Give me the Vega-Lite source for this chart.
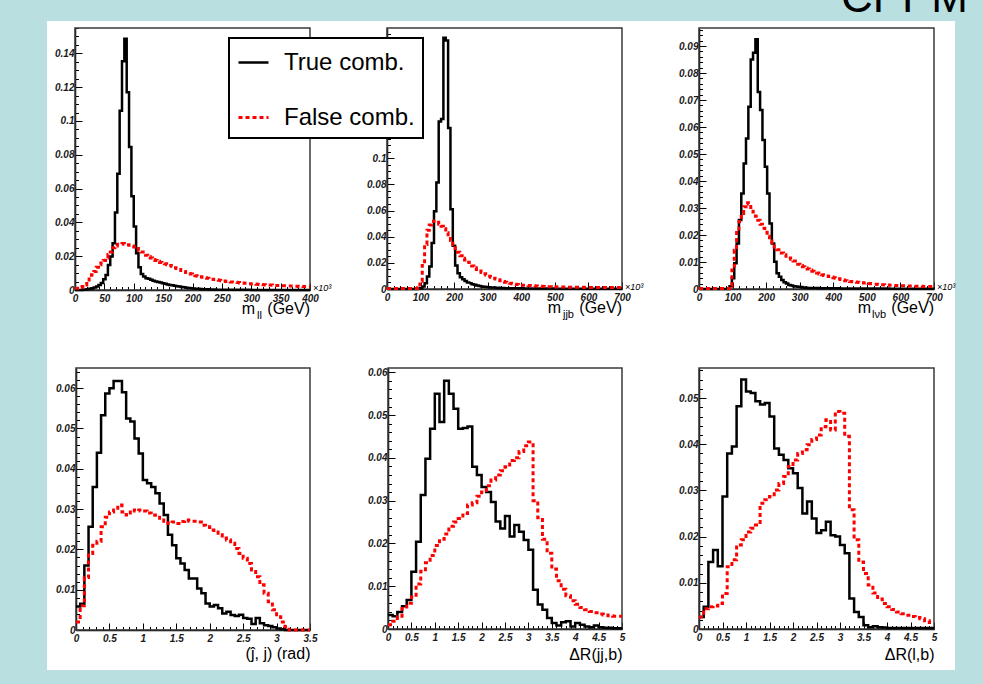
{
"$schema": "https://vega.github.io/schema/vega-lite/v6.json",
"width": 908, "height": 649,
"autosize": {"type": "none"},
"padding": {"left": 47, "top": 21, "right": 28, "bottom": 14},
"background": "#b9dfe1",
"data": {"values": [
{"p":"A","x":0,"t":0,"f":0.001},{"p":"A","x":4,"t":0,"f":0.001},{"p":"A","x":8,"t":0,"f":0.0015},{"p":"A","x":12,"t":0.0001,"f":0.002},{"p":"A","x":16,"t":0.0003,"f":0.003},{"p":"A","x":20,"t":0.0005,"f":0.005},{"p":"A","x":24,"t":0.0008,"f":0.0075},{"p":"A","x":28,"t":0.001,"f":0.009},{"p":"A","x":32,"t":0.0015,"f":0.011},{"p":"A","x":36,"t":0.002,"f":0.0135},{"p":"A","x":40,"t":0.003,"f":0.015},{"p":"A","x":44,"t":0.0042,"f":0.016},{"p":"A","x":48,"t":0.0063,"f":0.0175},{"p":"A","x":52,"t":0.0089,"f":0.019},{"p":"A","x":56,"t":0.0148,"f":0.021},{"p":"A","x":60,"t":0.0198,"f":0.0225},{"p":"A","x":64,"t":0.0277,"f":0.025},{"p":"A","x":68,"t":0.0459,"f":0.026},{"p":"A","x":72,"t":0.0688,"f":0.027},{"p":"A","x":76,"t":0.106,"f":0.0272},{"p":"A","x":80,"t":0.1354,"f":0.0275},{"p":"A","x":84,"t":0.1487,"f":0.027},{"p":"A","x":88,"t":0.117,"f":0.0268},{"p":"A","x":92,"t":0.0846,"f":0.0265},{"p":"A","x":96,"t":0.0554,"f":0.026},{"p":"A","x":100,"t":0.0376,"f":0.0255},{"p":"A","x":104,"t":0.0218,"f":0.0245},{"p":"A","x":108,"t":0.0135,"f":0.0235},{"p":"A","x":112,"t":0.0095,"f":0.0225},{"p":"A","x":116,"t":0.008,"f":0.0215},{"p":"A","x":120,"t":0.007,"f":0.0205},{"p":"A","x":124,"t":0.0066,"f":0.0198},{"p":"A","x":128,"t":0.006,"f":0.019},{"p":"A","x":132,"t":0.0055,"f":0.018},{"p":"A","x":136,"t":0.005,"f":0.0175},{"p":"A","x":140,"t":0.0047,"f":0.017},{"p":"A","x":144,"t":0.0044,"f":0.0163},{"p":"A","x":148,"t":0.004,"f":0.0158},{"p":"A","x":152,"t":0.0037,"f":0.0155},{"p":"A","x":156,"t":0.0033,"f":0.015},{"p":"A","x":160,"t":0.003,"f":0.0145},{"p":"A","x":164,"t":0.0028,"f":0.014},{"p":"A","x":168,"t":0.0025,"f":0.0132},{"p":"A","x":172,"t":0.0022,"f":0.0127},{"p":"A","x":176,"t":0.002,"f":0.0122},{"p":"A","x":180,"t":0.0018,"f":0.0115},{"p":"A","x":184,"t":0.0016,"f":0.011},{"p":"A","x":188,"t":0.0014,"f":0.0103},{"p":"A","x":192,"t":0.0012,"f":0.0098},{"p":"A","x":196,"t":0.001,"f":0.0095},{"p":"A","x":200,"t":0.0009,"f":0.009},{"p":"A","x":204,"t":0.0008,"f":0.0085},{"p":"A","x":208,"t":0.0007,"f":0.0082},{"p":"A","x":212,"t":0.0006,"f":0.0078},{"p":"A","x":216,"t":0.0005,"f":0.0075},{"p":"A","x":220,"t":0.0004,"f":0.0072},{"p":"A","x":224,"t":0.0004,"f":0.0069},{"p":"A","x":228,"t":0.0003,"f":0.0066},{"p":"A","x":232,"t":0.0003,"f":0.0064},{"p":"A","x":236,"t":0.0003,"f":0.0062},{"p":"A","x":240,"t":0.0002,"f":0.006},{"p":"A","x":244,"t":0.0002,"f":0.0057},{"p":"A","x":248,"t":0.0002,"f":0.0055},{"p":"A","x":252,"t":0.0001,"f":0.0053},{"p":"A","x":256,"t":0.0001,"f":0.0051},{"p":"A","x":260,"t":0.0001,"f":0.005},{"p":"A","x":264,"t":0.0001,"f":0.0048},{"p":"A","x":268,"t":0.0001,"f":0.0047},{"p":"A","x":272,"t":0.0001,"f":0.0046},{"p":"A","x":276,"t":0.0001,"f":0.0044},{"p":"A","x":280,"t":0.0001,"f":0.0042},{"p":"A","x":284,"t":0.0001,"f":0.0041},{"p":"A","x":288,"t":0.0001,"f":0.004},{"p":"A","x":292,"t":0.0001,"f":0.0038},{"p":"A","x":296,"t":0.0001,"f":0.0037},{"p":"A","x":300,"t":0,"f":0.0036},{"p":"A","x":304,"t":0,"f":0.0035},{"p":"A","x":308,"t":0,"f":0.0034},{"p":"A","x":312,"t":0,"f":0.0033},{"p":"A","x":316,"t":0,"f":0.0032},{"p":"A","x":320,"t":0,"f":0.0031},{"p":"A","x":324,"t":0,"f":0.003},{"p":"A","x":328,"t":0,"f":0.003},{"p":"A","x":332,"t":0,"f":0.0029},{"p":"A","x":336,"t":0,"f":0.0028},{"p":"A","x":340,"t":0,"f":0.0027},{"p":"A","x":344,"t":0,"f":0.0027},{"p":"A","x":348,"t":0,"f":0.0026},{"p":"A","x":352,"t":0,"f":0.0025},{"p":"A","x":356,"t":0,"f":0.0025},{"p":"A","x":360,"t":0,"f":0.0024},{"p":"A","x":364,"t":0,"f":0.0024},{"p":"A","x":368,"t":0,"f":0.0023},{"p":"A","x":372,"t":0,"f":0.0022},{"p":"A","x":376,"t":0,"f":0.0022},{"p":"A","x":380,"t":0,"f":0.0021},{"p":"A","x":384,"t":0,"f":0.0021},{"p":"A","x":388,"t":0,"f":0.002},{"p":"A","x":392,"t":0,"f":0.002},{"p":"A","x":396,"t":0,"f":0.0019},{"p":"A","x":400,"t":0,"f":0.0019},
{"p":"B","x":0,"t":0,"f":0.0003},{"p":"B","x":7,"t":0,"f":0.0003},{"p":"B","x":14,"t":0,"f":0.0003},{"p":"B","x":21,"t":0,"f":0.0003},{"p":"B","x":28,"t":0,"f":0.0003},{"p":"B","x":35,"t":0,"f":0.0003},{"p":"B","x":42,"t":0,"f":0.0003},{"p":"B","x":49,"t":0,"f":0.0003},{"p":"B","x":56,"t":0,"f":0.0003},{"p":"B","x":63,"t":0,"f":0.0003},{"p":"B","x":70,"t":0,"f":0.0003},{"p":"B","x":77,"t":0,"f":0.0003},{"p":"B","x":84,"t":0,"f":0.0003},{"p":"B","x":91,"t":0.0002,"f":0.001},{"p":"B","x":98,"t":0.0005,"f":0.006},{"p":"B","x":105,"t":0.002,"f":0.018},{"p":"B","x":112,"t":0.0044,"f":0.034},{"p":"B","x":119,"t":0.0095,"f":0.045},{"p":"B","x":126,"t":0.0172,"f":0.049},{"p":"B","x":133,"t":0.0351,"f":0.0515},{"p":"B","x":140,"t":0.0595,"f":0.052},{"p":"B","x":147,"t":0.0815,"f":0.051},{"p":"B","x":154,"t":0.128,"f":0.0495},{"p":"B","x":161,"t":0.13,"f":0.048},{"p":"B","x":168,"t":0.192,"f":0.046},{"p":"B","x":175,"t":0.19,"f":0.043},{"p":"B","x":182,"t":0.123,"f":0.04},{"p":"B","x":189,"t":0.061,"f":0.037},{"p":"B","x":196,"t":0.033,"f":0.034},{"p":"B","x":203,"t":0.018,"f":0.031},{"p":"B","x":210,"t":0.012,"f":0.028},{"p":"B","x":217,"t":0.009,"f":0.0255},{"p":"B","x":224,"t":0.0075,"f":0.0235},{"p":"B","x":231,"t":0.0062,"f":0.0222},{"p":"B","x":238,"t":0.005,"f":0.0205},{"p":"B","x":245,"t":0.0043,"f":0.019},{"p":"B","x":252,"t":0.0037,"f":0.0175},{"p":"B","x":259,"t":0.0032,"f":0.0162},{"p":"B","x":266,"t":0.0027,"f":0.015},{"p":"B","x":273,"t":0.0023,"f":0.0138},{"p":"B","x":280,"t":0.002,"f":0.0127},{"p":"B","x":287,"t":0.0018,"f":0.0116},{"p":"B","x":294,"t":0.0016,"f":0.0107},{"p":"B","x":301,"t":0.0014,"f":0.0098},{"p":"B","x":308,"t":0.0012,"f":0.009},{"p":"B","x":315,"t":0.0011,"f":0.0083},{"p":"B","x":322,"t":0.001,"f":0.0076},{"p":"B","x":329,"t":0.0009,"f":0.007},{"p":"B","x":336,"t":0.0008,"f":0.0063},{"p":"B","x":343,"t":0.0007,"f":0.0057},{"p":"B","x":350,"t":0.0006,"f":0.0052},{"p":"B","x":357,"t":0.0005,"f":0.0047},{"p":"B","x":364,"t":0.0005,"f":0.0043},{"p":"B","x":371,"t":0.0005,"f":0.004},{"p":"B","x":378,"t":0.0005,"f":0.0037},{"p":"B","x":385,"t":0.0005,"f":0.0034},{"p":"B","x":392,"t":0.0005,"f":0.0031},{"p":"B","x":399,"t":0.0005,"f":0.0029},{"p":"B","x":406,"t":0.0003,"f":0.0028},{"p":"B","x":413,"t":0.0003,"f":0.0027},{"p":"B","x":420,"t":0.0003,"f":0.0026},{"p":"B","x":427,"t":0.0003,"f":0.0025},{"p":"B","x":434,"t":0.0003,"f":0.0024},{"p":"B","x":441,"t":0.0003,"f":0.0023},{"p":"B","x":448,"t":0.0003,"f":0.0022},{"p":"B","x":455,"t":0.0003,"f":0.0021},{"p":"B","x":462,"t":0.0003,"f":0.002},{"p":"B","x":469,"t":0.0003,"f":0.0019},{"p":"B","x":476,"t":0.0003,"f":0.0018},{"p":"B","x":483,"t":0.0003,"f":0.0018},{"p":"B","x":490,"t":0.0003,"f":0.0017},{"p":"B","x":497,"t":0.0002,"f":0.0017},{"p":"B","x":504,"t":0.0002,"f":0.0016},{"p":"B","x":511,"t":0.0002,"f":0.0016},{"p":"B","x":518,"t":0.0002,"f":0.0015},{"p":"B","x":525,"t":0.0002,"f":0.0015},{"p":"B","x":532,"t":0.0002,"f":0.0015},{"p":"B","x":539,"t":0.0002,"f":0.0014},{"p":"B","x":546,"t":0.0002,"f":0.0014},{"p":"B","x":553,"t":0.0002,"f":0.0014},{"p":"B","x":560,"t":0.0002,"f":0.0013},{"p":"B","x":567,"t":0.0002,"f":0.0013},{"p":"B","x":574,"t":0.0002,"f":0.0013},{"p":"B","x":581,"t":0.0002,"f":0.0013},{"p":"B","x":588,"t":0.0002,"f":0.0012},{"p":"B","x":595,"t":0.0002,"f":0.0012},{"p":"B","x":602,"t":0.0002,"f":0.0012},{"p":"B","x":609,"t":0.0002,"f":0.0012},{"p":"B","x":616,"t":0.0002,"f":0.0012},{"p":"B","x":623,"t":0.0002,"f":0.0012},{"p":"B","x":630,"t":0.0002,"f":0.0012},{"p":"B","x":637,"t":0.0002,"f":0.0012},{"p":"B","x":644,"t":0.0002,"f":0.0012},{"p":"B","x":651,"t":0.0002,"f":0.0012},{"p":"B","x":658,"t":0.0002,"f":0.0012},{"p":"B","x":665,"t":0.0002,"f":0.0012},{"p":"B","x":672,"t":0.0002,"f":0.0012},{"p":"B","x":679,"t":0.0002,"f":0.0012},{"p":"B","x":686,"t":0.0002,"f":0.0012},{"p":"B","x":693,"t":0.0002,"f":0.0012},{"p":"B","x":700,"t":0.0002,"f":0.0012},
{"p":"C","x":0,"t":0,"f":0.0002},{"p":"C","x":7,"t":0,"f":0.0002},{"p":"C","x":14,"t":0,"f":0.0002},{"p":"C","x":21,"t":0,"f":0.0002},{"p":"C","x":28,"t":0,"f":0.0002},{"p":"C","x":35,"t":0,"f":0.0002},{"p":"C","x":42,"t":0,"f":0.0002},{"p":"C","x":49,"t":0,"f":0.0002},{"p":"C","x":56,"t":0,"f":0.0002},{"p":"C","x":63,"t":0,"f":0.0002},{"p":"C","x":70,"t":0,"f":0.0002},{"p":"C","x":77,"t":0,"f":0.0002},{"p":"C","x":84,"t":0,"f":0.0002},{"p":"C","x":91,"t":0.001,"f":0.001},{"p":"C","x":98,"t":0.004,"f":0.007},{"p":"C","x":105,"t":0.0095,"f":0.0144},{"p":"C","x":112,"t":0.0169,"f":0.0215},{"p":"C","x":119,"t":0.0256,"f":0.025},{"p":"C","x":126,"t":0.0354,"f":0.028},{"p":"C","x":133,"t":0.0465,"f":0.0305},{"p":"C","x":140,"t":0.0558,"f":0.032},{"p":"C","x":147,"t":0.0675,"f":0.0315},{"p":"C","x":154,"t":0.085,"f":0.0302},{"p":"C","x":161,"t":0.0875,"f":0.0285},{"p":"C","x":168,"t":0.0925,"f":0.027},{"p":"C","x":175,"t":0.073,"f":0.0255},{"p":"C","x":182,"t":0.0663,"f":0.024},{"p":"C","x":189,"t":0.0552,"f":0.0225},{"p":"C","x":196,"t":0.0453,"f":0.021},{"p":"C","x":203,"t":0.0354,"f":0.0195},{"p":"C","x":210,"t":0.0243,"f":0.0178},{"p":"C","x":217,"t":0.0169,"f":0.0165},{"p":"C","x":224,"t":0.0101,"f":0.0155},{"p":"C","x":231,"t":0.0058,"f":0.0145},{"p":"C","x":238,"t":0.0045,"f":0.014},{"p":"C","x":245,"t":0.0033,"f":0.0133},{"p":"C","x":252,"t":0.0025,"f":0.0127},{"p":"C","x":259,"t":0.002,"f":0.0121},{"p":"C","x":266,"t":0.0015,"f":0.0115},{"p":"C","x":273,"t":0.0013,"f":0.011},{"p":"C","x":280,"t":0.001,"f":0.0104},{"p":"C","x":287,"t":0.0009,"f":0.0097},{"p":"C","x":294,"t":0.0008,"f":0.0092},{"p":"C","x":301,"t":0.0007,"f":0.0087},{"p":"C","x":308,"t":0.0006,"f":0.0082},{"p":"C","x":315,"t":0.0005,"f":0.0078},{"p":"C","x":322,"t":0.0004,"f":0.0074},{"p":"C","x":329,"t":0.0004,"f":0.007},{"p":"C","x":336,"t":0.0004,"f":0.0066},{"p":"C","x":343,"t":0.0004,"f":0.0062},{"p":"C","x":350,"t":0.0004,"f":0.0059},{"p":"C","x":357,"t":0.0003,"f":0.0056},{"p":"C","x":364,"t":0.0003,"f":0.0053},{"p":"C","x":371,"t":0.0003,"f":0.005},{"p":"C","x":378,"t":0.0003,"f":0.0048},{"p":"C","x":385,"t":0.0003,"f":0.0046},{"p":"C","x":392,"t":0.0003,"f":0.0044},{"p":"C","x":399,"t":0.0003,"f":0.0042},{"p":"C","x":406,"t":0.0003,"f":0.004},{"p":"C","x":413,"t":0.0003,"f":0.0038},{"p":"C","x":420,"t":0.0002,"f":0.0035},{"p":"C","x":427,"t":0.0002,"f":0.0033},{"p":"C","x":434,"t":0.0002,"f":0.0031},{"p":"C","x":441,"t":0.0002,"f":0.003},{"p":"C","x":448,"t":0.0002,"f":0.0028},{"p":"C","x":455,"t":0.0002,"f":0.0027},{"p":"C","x":462,"t":0.0002,"f":0.0026},{"p":"C","x":469,"t":0.0002,"f":0.0025},{"p":"C","x":476,"t":0.0002,"f":0.0024},{"p":"C","x":483,"t":0.0002,"f":0.0023},{"p":"C","x":490,"t":0.0002,"f":0.0022},{"p":"C","x":497,"t":0.0002,"f":0.0021},{"p":"C","x":504,"t":0.0002,"f":0.002},{"p":"C","x":511,"t":0.0002,"f":0.0019},{"p":"C","x":518,"t":0.0002,"f":0.0018},{"p":"C","x":525,"t":0.0002,"f":0.0018},{"p":"C","x":532,"t":0.0002,"f":0.0017},{"p":"C","x":539,"t":0.0002,"f":0.0016},{"p":"C","x":546,"t":0.0002,"f":0.0016},{"p":"C","x":553,"t":0.0002,"f":0.0015},{"p":"C","x":560,"t":0.0002,"f":0.0015},{"p":"C","x":567,"t":0.0001,"f":0.0014},{"p":"C","x":574,"t":0.0001,"f":0.0014},{"p":"C","x":581,"t":0.0001,"f":0.0013},{"p":"C","x":588,"t":0.0001,"f":0.0013},{"p":"C","x":595,"t":0.0001,"f":0.0012},{"p":"C","x":602,"t":0.0001,"f":0.0012},{"p":"C","x":609,"t":0.0001,"f":0.0012},{"p":"C","x":616,"t":0.0001,"f":0.0011},{"p":"C","x":623,"t":0.0001,"f":0.0011},{"p":"C","x":630,"t":0.0001,"f":0.0011},{"p":"C","x":637,"t":0.0001,"f":0.001},{"p":"C","x":644,"t":0.0001,"f":0.001},{"p":"C","x":651,"t":0.0001,"f":0.001},{"p":"C","x":658,"t":0.0001,"f":0.001},{"p":"C","x":665,"t":0.0001,"f":0.0009},{"p":"C","x":672,"t":0.0001,"f":0.0009},{"p":"C","x":679,"t":0.0001,"f":0.0009},{"p":"C","x":686,"t":0.0001,"f":0.0009},{"p":"C","x":693,"t":0.0001,"f":0.0009},{"p":"C","x":700,"t":0.0001,"f":0.0009},
{"p":"D","x":0,"t":0.0058,"f":0.002},{"p":"D","x":0.0625,"t":0.0065,"f":0.006},{"p":"D","x":0.125,"t":0.016,"f":0.013},{"p":"D","x":0.1875,"t":0.0256,"f":0.019},{"p":"D","x":0.25,"t":0.0355,"f":0.021},{"p":"D","x":0.3125,"t":0.044,"f":0.022},{"p":"D","x":0.375,"t":0.0533,"f":0.0256},{"p":"D","x":0.4375,"t":0.0587,"f":0.028},{"p":"D","x":0.5,"t":0.06,"f":0.0293},{"p":"D","x":0.5625,"t":0.0618,"f":0.0298},{"p":"D","x":0.625,"t":0.0618,"f":0.031},{"p":"D","x":0.6875,"t":0.059,"f":0.0293},{"p":"D","x":0.75,"t":0.0525,"f":0.0285},{"p":"D","x":0.8125,"t":0.0517,"f":0.0298},{"p":"D","x":0.875,"t":0.0475,"f":0.0295},{"p":"D","x":0.9375,"t":0.0438,"f":0.0298},{"p":"D","x":1,"t":0.0372,"f":0.0295},{"p":"D","x":1.0625,"t":0.0364,"f":0.029},{"p":"D","x":1.125,"t":0.0355,"f":0.0285},{"p":"D","x":1.1875,"t":0.0339,"f":0.028},{"p":"D","x":1.25,"t":0.0314,"f":0.0273},{"p":"D","x":1.3125,"t":0.0285,"f":0.027},{"p":"D","x":1.375,"t":0.0236,"f":0.0264},{"p":"D","x":1.4375,"t":0.021,"f":0.0268},{"p":"D","x":1.5,"t":0.0178,"f":0.0264},{"p":"D","x":1.5625,"t":0.0165,"f":0.0269},{"p":"D","x":1.625,"t":0.0149,"f":0.0273},{"p":"D","x":1.6875,"t":0.0128,"f":0.027},{"p":"D","x":1.75,"t":0.0128,"f":0.027},{"p":"D","x":1.8125,"t":0.0103,"f":0.0268},{"p":"D","x":1.875,"t":0.0091,"f":0.026},{"p":"D","x":1.9375,"t":0.0066,"f":0.0256},{"p":"D","x":2,"t":0.0058,"f":0.0248},{"p":"D","x":2.0625,"t":0.0062,"f":0.0243},{"p":"D","x":2.125,"t":0.0054,"f":0.0236},{"p":"D","x":2.1875,"t":0.0041,"f":0.0228},{"p":"D","x":2.25,"t":0.0045,"f":0.0223},{"p":"D","x":2.3125,"t":0.0037,"f":0.0215},{"p":"D","x":2.375,"t":0.0035,"f":0.0202},{"p":"D","x":2.4375,"t":0.0038,"f":0.019},{"p":"D","x":2.5,"t":0.003,"f":0.0178},{"p":"D","x":2.5625,"t":0.0028,"f":0.0165},{"p":"D","x":2.625,"t":0.0015,"f":0.0149},{"p":"D","x":2.6875,"t":0.003,"f":0.0132},{"p":"D","x":2.75,"t":0.0017,"f":0.0112},{"p":"D","x":2.8125,"t":0.0012,"f":0.0091},{"p":"D","x":2.875,"t":0.001,"f":0.007},{"p":"D","x":2.9375,"t":0.0007,"f":0.005},{"p":"D","x":3,"t":0.0004,"f":0.0033},{"p":"D","x":3.0625,"t":0.0002,"f":0.002},{"p":"D","x":3.125,"t":0,"f":0.0008},{"p":"D","x":3.1875,"t":0,"f":0},{"p":"D","x":3.25,"t":0,"f":0},{"p":"D","x":3.3125,"t":0,"f":0},{"p":"D","x":3.375,"t":0,"f":0},{"p":"D","x":3.4375,"t":0,"f":0},{"p":"D","x":3.5,"t":0,"f":0},
{"p":"E","x":0,"t":0.0033,"f":0.001},{"p":"E","x":0.1,"t":0.003,"f":0.0018},{"p":"E","x":0.2,"t":0.004,"f":0.003},{"p":"E","x":0.3,"t":0.0053,"f":0.0048},{"p":"E","x":0.4,"t":0.0068,"f":0.006},{"p":"E","x":0.5,"t":0.0134,"f":0.0075},{"p":"E","x":0.6,"t":0.0204,"f":0.0105},{"p":"E","x":0.7,"t":0.0313,"f":0.0135},{"p":"E","x":0.8,"t":0.0398,"f":0.0155},{"p":"E","x":0.9,"t":0.0468,"f":0.0172},{"p":"E","x":1,"t":0.055,"f":0.0195},{"p":"E","x":1.1,"t":0.0484,"f":0.021},{"p":"E","x":1.2,"t":0.058,"f":0.0222},{"p":"E","x":1.3,"t":0.055,"f":0.024},{"p":"E","x":1.4,"t":0.0515,"f":0.025},{"p":"E","x":1.5,"t":0.0468,"f":0.0258},{"p":"E","x":1.6,"t":0.047,"f":0.027},{"p":"E","x":1.7,"t":0.0473,"f":0.029},{"p":"E","x":1.8,"t":0.0379,"f":0.0295},{"p":"E","x":1.9,"t":0.036,"f":0.031},{"p":"E","x":2,"t":0.0332,"f":0.032},{"p":"E","x":2.1,"t":0.032,"f":0.0335},{"p":"E","x":2.2,"t":0.0297,"f":0.0348},{"p":"E","x":2.3,"t":0.0251,"f":0.036},{"p":"E","x":2.4,"t":0.0235,"f":0.037},{"p":"E","x":2.5,"t":0.0264,"f":0.0379},{"p":"E","x":2.6,"t":0.0216,"f":0.0394},{"p":"E","x":2.7,"t":0.0243,"f":0.04},{"p":"E","x":2.8,"t":0.0227,"f":0.0415},{"p":"E","x":2.9,"t":0.0208,"f":0.0428},{"p":"E","x":3,"t":0.0185,"f":0.0437},{"p":"E","x":3.1,"t":0.0092,"f":0.03},{"p":"E","x":3.2,"t":0.0057,"f":0.026},{"p":"E","x":3.3,"t":0.0045,"f":0.021},{"p":"E","x":3.4,"t":0.0026,"f":0.0177},{"p":"E","x":3.5,"t":0.0014,"f":0.014},{"p":"E","x":3.6,"t":0.0008,"f":0.0113},{"p":"E","x":3.7,"t":0.0016,"f":0.0093},{"p":"E","x":3.8,"t":0.0018,"f":0.0078},{"p":"E","x":3.9,"t":0.0006,"f":0.0066},{"p":"E","x":4,"t":0.0014,"f":0.0058},{"p":"E","x":4.1,"t":0.001,"f":0.005},{"p":"E","x":4.2,"t":0.0006,"f":0.0045},{"p":"E","x":4.3,"t":0.0004,"f":0.0041},{"p":"E","x":4.4,"t":0.0008,"f":0.0038},{"p":"E","x":4.5,"t":0.0004,"f":0.0035},{"p":"E","x":4.6,"t":0.0003,"f":0.0033},{"p":"E","x":4.7,"t":0.0003,"f":0.0031},{"p":"E","x":4.8,"t":0.0002,"f":0.003},{"p":"E","x":4.9,"t":0.0002,"f":0.003},{"p":"E","x":5,"t":0.0002,"f":0.003},
{"p":"F","x":0,"t":0.0026,"f":0.0026},{"p":"F","x":0.1,"t":0.0048,"f":0.0044},{"p":"F","x":0.2,"t":0.0145,"f":0.0048},{"p":"F","x":0.3,"t":0.0171,"f":0.005},{"p":"F","x":0.4,"t":0.0136,"f":0.0055},{"p":"F","x":0.5,"t":0.0287,"f":0.0077},{"p":"F","x":0.6,"t":0.038,"f":0.0135},{"p":"F","x":0.7,"t":0.0395,"f":0.015},{"p":"F","x":0.8,"t":0.0482,"f":0.0182},{"p":"F","x":0.9,"t":0.054,"f":0.0193},{"p":"F","x":1,"t":0.0514,"f":0.021},{"p":"F","x":1.1,"t":0.0511,"f":0.0218},{"p":"F","x":1.2,"t":0.0493,"f":0.0225},{"p":"F","x":1.3,"t":0.0486,"f":0.0272},{"p":"F","x":1.4,"t":0.0489,"f":0.028},{"p":"F","x":1.5,"t":0.046,"f":0.0287},{"p":"F","x":1.6,"t":0.0391,"f":0.0301},{"p":"F","x":1.7,"t":0.0377,"f":0.0315},{"p":"F","x":1.8,"t":0.0366,"f":0.033},{"p":"F","x":1.9,"t":0.0348,"f":0.0352},{"p":"F","x":2,"t":0.0337,"f":0.0366},{"p":"F","x":2.1,"t":0.0305,"f":0.038},{"p":"F","x":2.2,"t":0.025,"f":0.0388},{"p":"F","x":2.3,"t":0.0276,"f":0.0399},{"p":"F","x":2.4,"t":0.0239,"f":0.041},{"p":"F","x":2.5,"t":0.0208,"f":0.042},{"p":"F","x":2.6,"t":0.0214,"f":0.0438},{"p":"F","x":2.7,"t":0.0232,"f":0.0453},{"p":"F","x":2.8,"t":0.0203,"f":0.0431},{"p":"F","x":2.9,"t":0.02,"f":0.0471},{"p":"F","x":3,"t":0.0182,"f":0.0467},{"p":"F","x":3.1,"t":0.0164,"f":0.0417},{"p":"F","x":3.2,"t":0.0066,"f":0.0258},{"p":"F","x":3.3,"t":0.0037,"f":0.0193},{"p":"F","x":3.4,"t":0.0026,"f":0.0145},{"p":"F","x":3.5,"t":0.0008,"f":0.012},{"p":"F","x":3.6,"t":0.0004,"f":0.0095},{"p":"F","x":3.7,"t":0.0006,"f":0.0078},{"p":"F","x":3.8,"t":0.0004,"f":0.0065},{"p":"F","x":3.9,"t":0.0003,"f":0.0055},{"p":"F","x":4,"t":0.0002,"f":0.0048},{"p":"F","x":4.1,"t":0.0002,"f":0.0042},{"p":"F","x":4.2,"t":0.0002,"f":0.0037},{"p":"F","x":4.3,"t":0.0002,"f":0.0033},{"p":"F","x":4.4,"t":0.0002,"f":0.003},{"p":"F","x":4.5,"t":0.0002,"f":0.0027},{"p":"F","x":4.6,"t":0.0002,"f":0.0025},{"p":"F","x":4.7,"t":0.0002,"f":0.0022},{"p":"F","x":4.8,"t":0.0002,"f":0.0018},{"p":"F","x":4.9,"t":0.0002,"f":0.0014},{"p":"F","x":5,"t":0.0002,"f":0.0014}
]},
"layer": [
{"layer": [
 {"data": {"values": [{}]}, "mark": {"type": "rect", "filled": false, "stroke": "#3a3a3a", "strokeWidth": 1.5},
  "encoding": {
   "x": {"datum": 0, "type": "quantitative", "scale": {"domain": [0, 400], "range": [28, 263], "nice": false, "zero": false}, "axis": {"orient": "bottom", "offset": -380, "tickCount": 40, "tickSize": -3.5, "labels": false, "domain": false, "title": null}},
   "x2": {"datum": 400},
   "y": {"datum": 0, "type": "quantitative", "scale": {"domain": [0, 0.155], "range": [269, 7], "nice": false, "zero": false}, "axis": {"orient": "left", "offset": -28, "tickCount": 40, "tickSize": -3.5, "labels": false, "domain": false, "title": null}},
   "y2": {"datum": 0.155}}},
 {"transform": [{"filter": "datum.p == 'A'"}, {"fold": ["t", "f"], "as": ["s", "y"]}],
  "mark": {"type": "line", "interpolate": "step-after"},
  "encoding": {
   "x": {"field": "x", "type": "quantitative", "scale": {"domain": [0, 400], "range": [28, 263], "nice": false, "zero": false}, "axis": {"orient": "bottom", "offset": -380, "tickCount": 8, "tickSize": -7, "labelPadding": 10, "format": "d", "title": null}},
   "y": {"field": "y", "type": "quantitative", "scale": {"domain": [0, 0.155], "range": [269, 7], "nice": false, "zero": false}, "axis": {"orient": "left", "offset": -28, "tickCount": 8, "tickSize": -7, "labelPadding": 8, "format": "~g", "title": null}},
   "color": {"field": "s", "type": "nominal", "scale": {"domain": ["t", "f"], "range": ["#000000", "#ff0000"]}, "legend": {"title": null, "orient": "none", "legendX": 182, "legendY": 17, "symbolStrokeWidth": 4, "labelExpr": "datum.value == 't' ? 'True comb.' : 'False comb.'"}},
   "strokeDash": {"field": "s", "type": "nominal", "scale": {"domain": ["t", "f"], "range": [[1, 0], [4, 3]]}, "legend": {"title": null, "orient": "none", "legendX": 182, "legendY": 17, "symbolStrokeWidth": 4, "labelExpr": "datum.value == 't' ? 'True comb.' : 'False comb.'"}},
   "strokeWidth": {"field": "s", "type": "ordinal", "scale": {"domain": ["t", "f"], "range": [2.5, 3]}, "legend": null}}},
 {"data": {"values": [{}]}, "mark": {"type": "text", "text": "×10³", "align": "left", "baseline": "middle", "dx": 3, "dy": -2, "fontSize": 9, "fontStyle": "italic"}, "encoding": {"x": {"datum": 400, "type": "quantitative", "axis": null}, "y": {"datum": 0, "type": "quantitative", "axis": null}}},
 {"data": {"values": [{}]}, "mark": {"type": "text", "text": "(GeV)", "align": "right", "baseline": "alphabetic", "dy": 24, "fontSize": 16}, "encoding": {"x": {"datum": 400, "type": "quantitative", "axis": null}, "y": {"datum": 0, "type": "quantitative", "axis": null}}},
 {"data": {"values": [{}]}, "mark": {"type": "text", "text": "ll", "align": "right", "baseline": "alphabetic", "dx": -48, "dy": 29, "fontSize": 11}, "encoding": {"x": {"datum": 400, "type": "quantitative", "axis": null}, "y": {"datum": 0, "type": "quantitative", "axis": null}}},
 {"data": {"values": [{}]}, "mark": {"type": "text", "text": "m", "align": "right", "baseline": "alphabetic", "dx": -55, "dy": 24, "fontSize": 16}, "encoding": {"x": {"datum": 400, "type": "quantitative", "axis": null}, "y": {"datum": 0, "type": "quantitative", "axis": null}}}
 ],
 "resolve": {"axis": {"x": "independent", "y": "independent"}}},
{"layer": [
 {"data": {"values": [{}]}, "mark": {"type": "rect", "filled": false, "stroke": "#3a3a3a", "strokeWidth": 1.5},
  "encoding": {
   "x": {"datum": 0, "type": "quantitative", "scale": {"domain": [0, 700], "range": [340, 575], "nice": false, "zero": false}, "axis": {"orient": "bottom", "offset": -381, "tickCount": 35, "tickSize": -3.5, "labels": false, "domain": false, "title": null}},
   "x2": {"datum": 700},
   "y": {"datum": 0, "type": "quantitative", "scale": {"domain": [0, 0.1995], "range": [268, 7], "nice": false, "zero": false}, "axis": {"orient": "left", "offset": -340, "tickCount": 50, "tickSize": -3.5, "labels": false, "domain": false, "title": null}},
   "y2": {"datum": 0.1995}}},
 {"transform": [{"filter": "datum.p == 'B'"}, {"fold": ["t", "f"], "as": ["s", "y"]}],
  "mark": {"type": "line", "interpolate": "step-after"},
  "encoding": {
   "x": {"field": "x", "type": "quantitative", "scale": {"domain": [0, 700], "range": [340, 575], "nice": false, "zero": false}, "axis": {"orient": "bottom", "offset": -381, "tickCount": 7, "tickSize": -7, "labelPadding": 10, "format": "d", "title": null}},
   "y": {"field": "y", "type": "quantitative", "scale": {"domain": [0, 0.1995], "range": [268, 7], "nice": false, "zero": false}, "axis": {"orient": "left", "offset": -340, "tickCount": 10, "tickSize": -7, "labelPadding": 8, "format": "~g", "title": null}},
   "color": {"field": "s", "type": "nominal", "scale": {"domain": ["t", "f"], "range": ["#000000", "#ff0000"]}, "legend": {"title": null, "orient": "none", "legendX": 182, "legendY": 17, "symbolStrokeWidth": 4, "labelExpr": "datum.value == 't' ? 'True comb.' : 'False comb.'"}},
   "strokeDash": {"field": "s", "type": "nominal", "scale": {"domain": ["t", "f"], "range": [[1, 0], [4, 3]]}, "legend": {"title": null, "orient": "none", "legendX": 182, "legendY": 17, "symbolStrokeWidth": 4, "labelExpr": "datum.value == 't' ? 'True comb.' : 'False comb.'"}},
   "strokeWidth": {"field": "s", "type": "ordinal", "scale": {"domain": ["t", "f"], "range": [2.5, 3]}, "legend": null}}},
 {"data": {"values": [{}]}, "mark": {"type": "text", "text": "×10³", "align": "left", "baseline": "middle", "dx": 3, "dy": -2, "fontSize": 9, "fontStyle": "italic"}, "encoding": {"x": {"datum": 700, "type": "quantitative", "axis": null}, "y": {"datum": 0, "type": "quantitative", "axis": null}}},
 {"data": {"values": [{}]}, "mark": {"type": "text", "text": "(GeV)", "align": "right", "baseline": "alphabetic", "dy": 24, "fontSize": 16}, "encoding": {"x": {"datum": 700, "type": "quantitative", "axis": null}, "y": {"datum": 0, "type": "quantitative", "axis": null}}},
 {"data": {"values": [{}]}, "mark": {"type": "text", "text": "jjb", "align": "right", "baseline": "alphabetic", "dx": -48, "dy": 29, "fontSize": 11}, "encoding": {"x": {"datum": 700, "type": "quantitative", "axis": null}, "y": {"datum": 0, "type": "quantitative", "axis": null}}},
 {"data": {"values": [{}]}, "mark": {"type": "text", "text": "m", "align": "right", "baseline": "alphabetic", "dx": -61, "dy": 24, "fontSize": 16}, "encoding": {"x": {"datum": 700, "type": "quantitative", "axis": null}, "y": {"datum": 0, "type": "quantitative", "axis": null}}}
 ],
 "resolve": {"axis": {"x": "independent", "y": "independent"}}},
{"layer": [
 {"data": {"values": [{}]}, "mark": {"type": "rect", "filled": false, "stroke": "#3a3a3a", "strokeWidth": 1.5},
  "encoding": {
   "x": {"datum": 0, "type": "quantitative", "scale": {"domain": [0, 700], "range": [652, 887], "nice": false, "zero": false}, "axis": {"orient": "bottom", "offset": -381, "tickCount": 35, "tickSize": -3.5, "labels": false, "domain": false, "title": null}},
   "x2": {"datum": 700},
   "y": {"datum": 0, "type": "quantitative", "scale": {"domain": [0, 0.0967], "range": [268, 7], "nice": false, "zero": false}, "axis": {"orient": "left", "offset": -652, "tickCount": 48, "tickSize": -3.5, "labels": false, "domain": false, "title": null}},
   "y2": {"datum": 0.0967}}},
 {"transform": [{"filter": "datum.p == 'C'"}, {"fold": ["t", "f"], "as": ["s", "y"]}],
  "mark": {"type": "line", "interpolate": "step-after"},
  "encoding": {
   "x": {"field": "x", "type": "quantitative", "scale": {"domain": [0, 700], "range": [652, 887], "nice": false, "zero": false}, "axis": {"orient": "bottom", "offset": -381, "tickCount": 7, "tickSize": -7, "labelPadding": 10, "format": "d", "title": null}},
   "y": {"field": "y", "type": "quantitative", "scale": {"domain": [0, 0.0967], "range": [268, 7], "nice": false, "zero": false}, "axis": {"orient": "left", "offset": -652, "tickCount": 10, "tickSize": -7, "labelPadding": 8, "format": "~g", "title": null}},
   "color": {"field": "s", "type": "nominal", "scale": {"domain": ["t", "f"], "range": ["#000000", "#ff0000"]}, "legend": {"title": null, "orient": "none", "legendX": 182, "legendY": 17, "symbolStrokeWidth": 4, "labelExpr": "datum.value == 't' ? 'True comb.' : 'False comb.'"}},
   "strokeDash": {"field": "s", "type": "nominal", "scale": {"domain": ["t", "f"], "range": [[1, 0], [4, 3]]}, "legend": {"title": null, "orient": "none", "legendX": 182, "legendY": 17, "symbolStrokeWidth": 4, "labelExpr": "datum.value == 't' ? 'True comb.' : 'False comb.'"}},
   "strokeWidth": {"field": "s", "type": "ordinal", "scale": {"domain": ["t", "f"], "range": [2.5, 3]}, "legend": null}}},
 {"data": {"values": [{}]}, "mark": {"type": "text", "text": "×10³", "align": "left", "baseline": "middle", "dx": 3, "dy": -2, "fontSize": 9, "fontStyle": "italic"}, "encoding": {"x": {"datum": 700, "type": "quantitative", "axis": null}, "y": {"datum": 0, "type": "quantitative", "axis": null}}},
 {"data": {"values": [{}]}, "mark": {"type": "text", "text": "(GeV)", "align": "right", "baseline": "alphabetic", "dy": 24, "fontSize": 16}, "encoding": {"x": {"datum": 700, "type": "quantitative", "axis": null}, "y": {"datum": 0, "type": "quantitative", "axis": null}}},
 {"data": {"values": [{}]}, "mark": {"type": "text", "text": "lνb", "align": "right", "baseline": "alphabetic", "dx": -48, "dy": 29, "fontSize": 11}, "encoding": {"x": {"datum": 700, "type": "quantitative", "axis": null}, "y": {"datum": 0, "type": "quantitative", "axis": null}}},
 {"data": {"values": [{}]}, "mark": {"type": "text", "text": "m", "align": "right", "baseline": "alphabetic", "dx": -63, "dy": 24, "fontSize": 16}, "encoding": {"x": {"datum": 700, "type": "quantitative", "axis": null}, "y": {"datum": 0, "type": "quantitative", "axis": null}}},
 {"data": {"values": [{}]}, "mark": {"type": "text", "text": "CPPM", "align": "right", "baseline": "alphabetic", "dx": 34, "dy": -16, "fontSize": 44}, "encoding": {"x": {"datum": 700, "type": "quantitative", "axis": null}, "y": {"datum": 0.0967, "type": "quantitative", "axis": null}}}
 ],
 "resolve": {"axis": {"x": "independent", "y": "independent"}}},
{"layer": [
 {"data": {"values": [{}]}, "mark": {"type": "rect", "filled": false, "stroke": "#3a3a3a", "strokeWidth": 1.5},
  "encoding": {
   "x": {"datum": 0, "type": "quantitative", "scale": {"domain": [0, 3.5], "range": [29, 263], "nice": false, "zero": false}, "axis": {"orient": "bottom", "offset": -40, "tickCount": 35, "tickSize": -3.5, "labels": false, "domain": false, "title": null}},
   "x2": {"datum": 3.5},
   "y": {"datum": 0, "type": "quantitative", "scale": {"domain": [0, 0.065], "range": [609, 347], "nice": false, "zero": false}, "axis": {"orient": "left", "offset": -29, "tickCount": 32, "tickSize": -3.5, "labels": false, "domain": false, "title": null}},
   "y2": {"datum": 0.065}}},
 {"transform": [{"filter": "datum.p == 'D'"}, {"fold": ["t", "f"], "as": ["s", "y"]}],
  "mark": {"type": "line", "interpolate": "step-after"},
  "encoding": {
   "x": {"field": "x", "type": "quantitative", "scale": {"domain": [0, 3.5], "range": [29, 263], "nice": false, "zero": false}, "axis": {"orient": "bottom", "offset": -40, "tickCount": 7, "tickSize": -7, "labelPadding": 10, "format": "~g", "title": "(ĵ, j) (rad)", "titleAnchor": "end", "titleAlign": "right", "titleBaseline": "alphabetic", "titleY": 28}},
   "y": {"field": "y", "type": "quantitative", "scale": {"domain": [0, 0.065], "range": [609, 347], "nice": false, "zero": false}, "axis": {"orient": "left", "offset": -29, "tickCount": 7, "tickSize": -7, "labelPadding": 8, "format": "~g", "title": null}},
   "color": {"field": "s", "type": "nominal", "scale": {"domain": ["t", "f"], "range": ["#000000", "#ff0000"]}, "legend": {"title": null, "orient": "none", "legendX": 182, "legendY": 17, "symbolStrokeWidth": 4, "labelExpr": "datum.value == 't' ? 'True comb.' : 'False comb.'"}},
   "strokeDash": {"field": "s", "type": "nominal", "scale": {"domain": ["t", "f"], "range": [[1, 0], [4, 3]]}, "legend": {"title": null, "orient": "none", "legendX": 182, "legendY": 17, "symbolStrokeWidth": 4, "labelExpr": "datum.value == 't' ? 'True comb.' : 'False comb.'"}},
   "strokeWidth": {"field": "s", "type": "ordinal", "scale": {"domain": ["t", "f"], "range": [2.5, 3]}, "legend": null}}}
 ],
 "resolve": {"axis": {"x": "independent", "y": "independent"}}},
{"layer": [
 {"data": {"values": [{}]}, "mark": {"type": "rect", "filled": false, "stroke": "#3a3a3a", "strokeWidth": 1.5},
  "encoding": {
   "x": {"datum": 0, "type": "quantitative", "scale": {"domain": [0, 5], "range": [341, 575], "nice": false, "zero": false}, "axis": {"orient": "bottom", "offset": -41, "tickCount": 50, "tickSize": -3.5, "labels": false, "domain": false, "title": null}},
   "x2": {"datum": 5},
   "y": {"datum": 0, "type": "quantitative", "scale": {"domain": [0, 0.061], "range": [608, 347], "nice": false, "zero": false}, "axis": {"orient": "left", "offset": -341, "tickCount": 30, "tickSize": -3.5, "labels": false, "domain": false, "title": null}},
   "y2": {"datum": 0.061}}},
 {"transform": [{"filter": "datum.p == 'E'"}, {"fold": ["t", "f"], "as": ["s", "y"]}],
  "mark": {"type": "line", "interpolate": "step-after"},
  "encoding": {
   "x": {"field": "x", "type": "quantitative", "scale": {"domain": [0, 5], "range": [341, 575], "nice": false, "zero": false}, "axis": {"orient": "bottom", "offset": -41, "tickCount": 10, "tickSize": -7, "labelPadding": 10, "format": "~g", "title": "ΔR(jj,b)", "titleAnchor": "end", "titleAlign": "right", "titleBaseline": "alphabetic", "titleY": 30}},
   "y": {"field": "y", "type": "quantitative", "scale": {"domain": [0, 0.061], "range": [608, 347], "nice": false, "zero": false}, "axis": {"orient": "left", "offset": -341, "tickCount": 6, "tickSize": -7, "labelPadding": 8, "format": "~g", "title": null}},
   "color": {"field": "s", "type": "nominal", "scale": {"domain": ["t", "f"], "range": ["#000000", "#ff0000"]}, "legend": {"title": null, "orient": "none", "legendX": 182, "legendY": 17, "symbolStrokeWidth": 4, "labelExpr": "datum.value == 't' ? 'True comb.' : 'False comb.'"}},
   "strokeDash": {"field": "s", "type": "nominal", "scale": {"domain": ["t", "f"], "range": [[1, 0], [4, 3]]}, "legend": {"title": null, "orient": "none", "legendX": 182, "legendY": 17, "symbolStrokeWidth": 4, "labelExpr": "datum.value == 't' ? 'True comb.' : 'False comb.'"}},
   "strokeWidth": {"field": "s", "type": "ordinal", "scale": {"domain": ["t", "f"], "range": [2.5, 3]}, "legend": null}}}
 ],
 "resolve": {"axis": {"x": "independent", "y": "independent"}}},
{"layer": [
 {"data": {"values": [{}]}, "mark": {"type": "rect", "filled": false, "stroke": "#3a3a3a", "strokeWidth": 1.5},
  "encoding": {
   "x": {"datum": 0, "type": "quantitative", "scale": {"domain": [0, 5], "range": [652, 887], "nice": false, "zero": false}, "axis": {"orient": "bottom", "offset": -41, "tickCount": 50, "tickSize": -3.5, "labels": false, "domain": false, "title": null}},
   "x2": {"datum": 5},
   "y": {"datum": 0, "type": "quantitative", "scale": {"domain": [0, 0.0565], "range": [608, 347], "nice": false, "zero": false}, "axis": {"orient": "left", "offset": -652, "tickCount": 28, "tickSize": -3.5, "labels": false, "domain": false, "title": null}},
   "y2": {"datum": 0.0565}}},
 {"transform": [{"filter": "datum.p == 'F'"}, {"fold": ["t", "f"], "as": ["s", "y"]}],
  "mark": {"type": "line", "interpolate": "step-after"},
  "encoding": {
   "x": {"field": "x", "type": "quantitative", "scale": {"domain": [0, 5], "range": [652, 887], "nice": false, "zero": false}, "axis": {"orient": "bottom", "offset": -41, "tickCount": 10, "tickSize": -7, "labelPadding": 10, "format": "~g", "title": "ΔR(l,b)", "titleAnchor": "end", "titleAlign": "right", "titleBaseline": "alphabetic", "titleY": 30}},
   "y": {"field": "y", "type": "quantitative", "scale": {"domain": [0, 0.0565], "range": [608, 347], "nice": false, "zero": false}, "axis": {"orient": "left", "offset": -652, "tickCount": 6, "tickSize": -7, "labelPadding": 8, "format": "~g", "title": null}},
   "color": {"field": "s", "type": "nominal", "scale": {"domain": ["t", "f"], "range": ["#000000", "#ff0000"]}, "legend": {"title": null, "orient": "none", "legendX": 182, "legendY": 17, "symbolStrokeWidth": 4, "labelExpr": "datum.value == 't' ? 'True comb.' : 'False comb.'"}},
   "strokeDash": {"field": "s", "type": "nominal", "scale": {"domain": ["t", "f"], "range": [[1, 0], [4, 3]]}, "legend": {"title": null, "orient": "none", "legendX": 182, "legendY": 17, "symbolStrokeWidth": 4, "labelExpr": "datum.value == 't' ? 'True comb.' : 'False comb.'"}},
   "strokeWidth": {"field": "s", "type": "ordinal", "scale": {"domain": ["t", "f"], "range": [2.5, 3]}, "legend": null}}}
 ],
 "resolve": {"axis": {"x": "independent", "y": "independent"}}}
],
"resolve": {"scale": {"x": "independent", "y": "independent"}},
"config": {
 "font": "Liberation Sans",
 "view": {"fill": "#ffffff", "stroke": null},
 "axis": {"grid": false, "domainColor": "#000000", "domainWidth": 1.5, "tickColor": "#000000", "tickWidth": 1, "labelFontSize": 10, "labelFontStyle": "italic", "labelFontWeight": "bold", "labelColor": "#1a1a1a", "labelFlush": false, "labelOverlap": false, "titleFontSize": 16, "titleFontWeight": "normal", "titleColor": "#000000"},
 "legend": {"fillColor": "#ffffff", "strokeColor": "#000000", "strokeWidth": 2, "padding": 8, "labelFontSize": 24, "labelColor": "#000000", "symbolType": "stroke", "symbolSize": 900, "symbolStrokeWidth": 4, "rowPadding": 26, "labelOffset": 14},
 "line": {"strokeJoin": "miter", "strokeCap": "butt"}
}
}
